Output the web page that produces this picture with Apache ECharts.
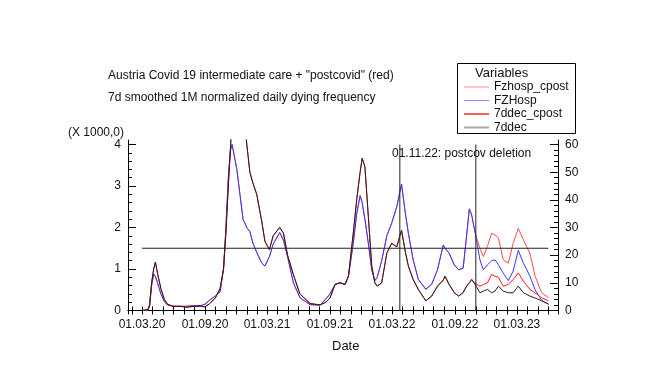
<!DOCTYPE html>
<html><head><meta charset="utf-8">
<script src="https://cdn.jsdelivr.net/npm/echarts@6/dist/echarts.min.js"></script>
<style>html,body{margin:0;padding:0;background:#fff}#c{width:660px;height:381px}</style>
</head><body><div id="c"></div>
<script>
// ---------------- data ----------------
const dates = [
'2020-03-01','2020-03-18','2020-03-23','2020-03-29','2020-04-04','2020-04-09','2020-04-16','2020-04-25','2020-05-05','2020-05-15',
'2020-06-01','2020-06-20','2020-07-10','2020-08-01','2020-08-20','2020-09-01','2020-09-15','2020-10-01','2020-10-15','2020-10-25',
'2020-11-01','2020-11-08','2020-11-14','2020-11-19','2020-11-25','2020-12-03','2020-12-12','2020-12-21','2021-01-01','2021-01-10',
'2021-01-19','2021-01-30','2021-02-14','2021-02-23','2021-03-08','2021-03-19','2021-04-07','2021-04-18','2021-04-30','2021-05-17',
'2021-06-05','2021-07-05','2021-08-03','2021-08-20','2021-09-01','2021-09-16','2021-09-30','2021-10-15','2021-10-25','2021-11-08',
'2021-11-18','2021-11-28','2021-12-04','2021-12-12','2021-12-22','2022-01-01','2022-01-10','2022-01-17','2022-01-30','2022-02-14',
'2022-02-28','2022-03-15','2022-03-29','2022-04-08','2022-04-18','2022-05-02','2022-05-17','2022-06-08','2022-06-25','2022-07-12',
'2022-07-29','2022-08-03','2022-08-15','2022-08-30','2022-09-12','2022-09-25','2022-10-05','2022-10-13','2022-10-20','2022-10-27',
'2022-11-01','2022-11-13','2022-11-23','2022-12-05','2022-12-17','2022-12-27','2023-01-06','2023-01-20','2023-02-04','2023-02-18',
'2023-03-05','2023-03-20','2023-04-08','2023-04-23','2023-05-12','2023-06-01'
];
// FZHosp (x 1000)
const fzHosp = [
0,0,0.1,0.6,0.88,0.82,0.65,0.4,0.22,0.13,
0.1,0.1,0.1,0.12,0.12,0.15,0.25,0.35,0.45,1.0,
2.0,3.2,3.85,4.0,3.75,3.4,2.8,2.2,2.0,1.9,
1.62,1.4,1.14,1.07,1.3,1.6,1.88,1.7,1.3,0.67,
0.31,0.14,0.13,0.28,0.4,0.63,0.67,0.63,0.83,1.62,
2.33,2.77,2.6,2.2,1.62,0.98,0.72,0.8,1.2,1.8,
2.1,2.5,3.05,2.41,1.86,1.22,0.75,0.51,0.63,0.98,
1.58,1.5,1.38,1.1,0.98,1.02,1.8,2.45,2.3,2.0,
1.8,1.22,0.98,1.1,1.2,1.22,1.1,0.9,0.72,0.95,
1.45,1.14,0.83,0.5,0.25,0.15
];
// 7ddec
const ddec = [
0,0.3,2,10,15,17.5,13,8,4,2.2,
1.5,1.5,1.2,1.5,1.5,1.3,2.5,4.5,8,15,
28,45,58,70,85,95,90,75,60,50,
46,42,32,25,22,27,30,28,20,13,
6,2.5,2,3,4.5,9.4,10,9.4,12.4,28,
40,50,55,52,34,16,10,8.8,10,20.7,
24.3,23,29,21.9,16,11.2,7.6,3.5,5.2,8.8,
11,12.4,9.4,6.4,5.2,6.5,8.8,10,11.2,10,
9.4,6.4,7,7.6,6.4,7,8.8,7,6.4,6.4,
8.8,6.4,5.2,4.5,3.5,2.3
];
// values after 01.11.22 (postcovid kept) for the *_cpost variables
const fzHospCpostAfter = [1.5,1.3,1.55,1.86,1.82,1.75,1.22,1.14,1.62,1.98,1.7,1.38,0.83,0.43,0.31];
const ddecCpostAfter   = [8.8,9.4,10,13,12.4,12,8.8,9.4,11.2,13.6,10.6,7.6,6.4,4.6,3.5];
const deletionDate = '2022-11-01';
const secondMarkDate = '2022-03-24';
const refLevel = 1.5;
const xLabelDates = ['2020-03-01','2020-09-01','2021-03-01','2021-09-01','2022-03-01','2022-09-01','2023-03-01'];
const leftLabels = [0,1,2,3,4];
const rightLabels = [0,10,20,30,40,50,60];
const seriesNames = ['Fzhosp_cpost','FZHosp','7ddec_cpost','7ddec'];

// ---------------- build ----------------
function ts(s){const p=s.split('-');return new Date(+p[0],+p[1]-1,+p[2]).getTime();}
const cut = dates.indexOf(deletionDate) + 1;
const fzHospCpost = fzHosp.slice(0, cut).concat(fzHospCpostAfter);
const ddecCpost = ddec.slice(0, cut).concat(ddecCpostAfter);
const pairs = arr => dates.map((d,i)=>[ts(d), arr[i]]);
const xMin = ts('2020-01-20'), xMax = ts('2023-06-29');
const monthTicks = [];
for (let y=2020;y<=2023;y++) for (let m=0;m<12;m++){const t=new Date(y,m,1).getTime(); if(t>=xMin&&t<=xMax) monthTicks.push(t);}
const leftMinor=[]; for(let i=0;i<=20;i++) leftMinor.push(+(i*0.2).toFixed(1));
const rightMinor=[]; for(let i=0;i<=30;i++) rightMinor.push(i*2);
const pad = n => (n<10?'0':'')+n;
const fmtDate = v => {const d=new Date(v);return pad(d.getDate())+'.'+pad(d.getMonth()+1)+'.'+String(d.getFullYear()).slice(2);};
const LMIN=-0.085, LMAX=4.11, K=15;
const font = 'Liberation Sans, Arial, sans-serif';
const axisLine = {show:true, lineStyle:{color:'#000', width:1}};

const chart = echarts.init(document.getElementById('c'), null, {renderer:'canvas'});
const lineS = (name, data, color, yIdx) => ({
  name, type:'line', data, yAxisIndex:yIdx, symbol:'none', showSymbol:false,
  lineStyle:{color, width:1}, itemStyle:{color}, clip:true, silent:true, animation:false
});
const hiddenSym = {opacity:0, color:'rgba(0,0,0,0)', borderWidth:0};
chart.setOption({
  animation:false,
  textStyle:{fontFamily:font},
  grid:{left:128, right:102, top:140, bottom:67, containLabel:false},
  xAxis:[
    {type:'value', position:'bottom', min:xMin, max:xMax, axisLine, scale:true,
     axisTick:{show:true, inside:true, length:4, customValues:monthTicks, lineStyle:{color:'#000'}},
     axisLabel:{show:true, customValues:xLabelDates.map(ts), formatter:fmtDate, color:'#111', fontSize:12, margin:5, fontFamily:font, hideOverlap:false},
     splitLine:{show:false}},
    {type:'value', position:'top', min:xMin, max:xMax, axisLine, scale:true,
     axisTick:{show:true, inside:true, length:4, customValues:monthTicks, lineStyle:{color:'#000'}},
     axisLabel:{show:false}, splitLine:{show:false}}
  ],
  yAxis:[
    {type:'value', position:'left', min:LMIN, max:LMAX, axisLine,
     axisTick:{show:true, inside:true, length:4, customValues:leftMinor, lineStyle:{color:'#000'}},
     axisLabel:{customValues:leftLabels, color:'#111', fontSize:12, margin:7, fontFamily:font},
     splitLine:{show:false}},
    {type:'value', position:'right', min:LMIN*K, max:LMAX*K, axisLine,
     axisTick:{show:true, inside:true, length:4, customValues:rightMinor, lineStyle:{color:'#000'}},
     axisLabel:{customValues:rightLabels, color:'#111', fontSize:12, margin:7, fontFamily:font},
     splitLine:{show:false}},
    {type:'value', position:'left', min:LMIN, max:LMAX, axisLine:{show:false},
     axisTick:{show:true, inside:true, length:8, customValues:leftLabels, lineStyle:{color:'#000'}},
     axisLabel:{show:false}, splitLine:{show:false}},
    {type:'value', position:'right', min:LMIN*K, max:LMAX*K, axisLine:{show:false},
     axisTick:{show:true, inside:true, length:8, customValues:rightLabels, lineStyle:{color:'#000'}},
     axisLabel:{show:false}, splitLine:{show:false}}
  ],
  legend:{
    orient:'vertical', left:463, top:81, itemWidth:25, itemHeight:10, itemGap:1.5, padding:0,
    textStyle:{fontSize:12, color:'#111', fontFamily:font}, selectedMode:false,
    itemStyle:hiddenSym,
    data:[
      {name:seriesNames[0], itemStyle:hiddenSym, lineStyle:{color:'#ff8a8a', width:1}},
      {name:seriesNames[1], itemStyle:hiddenSym, lineStyle:{color:'#8a8aff', width:1}},
      {name:seriesNames[2], itemStyle:hiddenSym, lineStyle:{color:'#ff2a2a', width:1.5}},
      {name:seriesNames[3], itemStyle:hiddenSym, lineStyle:{color:'#aaaaaa', width:2}}
    ]
  },
  graphic:[
    {type:'rect', shape:{x:457.5, y:63.5, width:118, height:70}, style:{fill:'none', stroke:'#000', lineWidth:1}},
    {type:'text', left:475, top:67, style:{text:'Variables', font:'13px '+font, fill:'#111'}},
    {type:'text', left:108, top:70, style:{text:'Austria Covid 19 intermediate care + "postcovid" (red)', font:'12px '+font, fill:'#111'}},
    {type:'text', left:108, top:92, style:{text:'7d smoothed 1M normalized daily dying frequency', font:'12px '+font, fill:'#111'}},
    {type:'text', left:68, top:127, style:{text:'(X 1000,0)', font:'12px '+font, fill:'#111'}},
    {type:'text', left:392, top:148, style:{text:'01.11.22: postcov deletion', font:'12px '+font, fill:'#111'}, z:100},
    {type:'text', left:332, top:340, style:{text:'Date', font:'13px '+font, fill:'#111'}}
  ],
  series:[
    lineS(seriesNames[0], pairs(fzHospCpost), '#ff4a4a', 0),
    lineS(seriesNames[1], pairs(fzHosp), '#3535ff', 0),
    lineS(seriesNames[2], pairs(ddecCpost), '#ff1a1a', 1),
    lineS(seriesNames[3], pairs(ddec), '#222222', 1),
    {type:'line', name:'ref', data:[[ts(dates[0]),refLevel],[ts(dates[dates.length-1]),refLevel]], yAxisIndex:0, symbol:'none', lineStyle:{color:'#222', width:1}, silent:true},
    {type:'line', name:'mark1', data:[[ts(secondMarkDate),0],[ts(secondMarkDate),4]], yAxisIndex:0, symbol:'none', lineStyle:{color:'#222', width:1}, silent:true},
    {type:'line', name:'mark2', data:[[ts(deletionDate),0],[ts(deletionDate),4]], yAxisIndex:0, symbol:'none', lineStyle:{color:'#222', width:1}, silent:true}
  ]
});
</script></body></html>
